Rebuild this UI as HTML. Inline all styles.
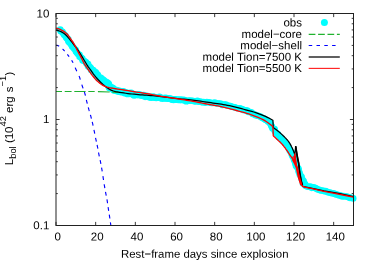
<!DOCTYPE html>
<html><head><meta charset="utf-8"><title>Lbol</title>
<style>html,body{margin:0;padding:0;background:#fff;}svg{display:block;will-change:transform;}</style>
</head><body>
<svg width="374" height="262" viewBox="0 0 374 262">
<rect width="374" height="262" fill="#fff"/>
<defs><clipPath id="c"><rect x="56.00" y="13.50" width="303.50" height="212.00"/></clipPath></defs>
<g fill="#00ffff">
<circle cx="60.20" cy="29.60" r="3.30"/>
<circle cx="60.74" cy="31.22" r="3.30"/>
<circle cx="62.38" cy="31.92" r="3.30"/>
<circle cx="63.22" cy="33.29" r="3.30"/>
<circle cx="64.06" cy="34.64" r="3.30"/>
<circle cx="65.35" cy="35.67" r="3.30"/>
<circle cx="66.01" cy="37.15" r="3.30"/>
<circle cx="66.90" cy="38.46" r="3.30"/>
<circle cx="68.33" cy="39.42" r="3.30"/>
<circle cx="68.35" cy="41.32" r="3.30"/>
<circle cx="69.38" cy="42.54" r="3.30"/>
<circle cx="70.68" cy="43.57" r="3.30"/>
<circle cx="71.46" cy="44.97" r="3.30"/>
<circle cx="72.17" cy="46.41" r="3.30"/>
<circle cx="73.34" cy="47.53" r="3.30"/>
<circle cx="74.27" cy="48.81" r="3.30"/>
<circle cx="75.58" cy="49.82" r="3.30"/>
<circle cx="75.92" cy="51.55" r="3.30"/>
<circle cx="77.02" cy="52.71" r="3.30"/>
<circle cx="77.96" cy="53.99" r="3.30"/>
<circle cx="79.50" cy="54.78" r="3.30"/>
<circle cx="79.60" cy="56.77" r="3.30"/>
<circle cx="81.08" cy="57.60" r="3.30"/>
<circle cx="82.28" cy="58.65" r="3.30"/>
<circle cx="82.65" cy="60.45" r="3.30"/>
<circle cx="84.30" cy="61.12" r="3.30"/>
<circle cx="85.75" cy="61.96" r="3.30"/>
<circle cx="86.48" cy="63.43" r="3.32"/>
<circle cx="88.06" cy="64.17" r="3.35"/>
<circle cx="88.13" cy="66.21" r="3.39"/>
<circle cx="89.59" cy="67.04" r="3.43"/>
<circle cx="90.73" cy="68.15" r="3.47"/>
<circle cx="91.29" cy="69.78" r="3.51"/>
<circle cx="93.13" cy="70.24" r="3.55"/>
<circle cx="93.62" cy="71.97" r="3.59"/>
<circle cx="95.43" cy="72.43" r="3.64"/>
<circle cx="96.16" cy="73.93" r="3.69"/>
<circle cx="97.43" cy="74.90" r="3.73"/>
<circle cx="97.88" cy="76.73" r="3.77"/>
<circle cx="98.98" cy="77.90" r="3.81"/>
<circle cx="100.70" cy="78.34" r="3.84"/>
<circle cx="101.65" cy="79.69" r="3.86"/>
<circle cx="103.13" cy="80.39" r="3.89"/>
<circle cx="104.17" cy="81.63" r="3.90"/>
<circle cx="105.69" cy="82.31" r="3.90"/>
<circle cx="107.10" cy="83.14" r="3.90"/>
<circle cx="108.28" cy="84.19" r="3.90"/>
<circle cx="108.90" cy="85.86" r="3.90"/>
<circle cx="109.64" cy="87.47" r="3.86"/>
<circle cx="111.37" cy="87.90" r="3.82"/>
<circle cx="112.86" cy="88.49" r="3.78"/>
<circle cx="113.85" cy="90.06" r="3.73"/>
<circle cx="115.59" cy="90.14" r="3.70"/>
<circle cx="117.10" cy="90.63" r="3.70"/>
<circle cx="118.60" cy="91.16" r="3.70"/>
<circle cx="120.18" cy="91.44" r="3.70"/>
<circle cx="121.74" cy="91.76" r="3.70"/>
<circle cx="123.37" cy="91.71" r="3.70"/>
<circle cx="124.76" cy="92.77" r="3.69"/>
<circle cx="126.37" cy="92.87" r="3.68"/>
<circle cx="127.83" cy="93.66" r="3.68"/>
<circle cx="129.51" cy="93.37" r="3.67"/>
<circle cx="131.18" cy="93.09" r="3.66"/>
<circle cx="132.61" cy="94.06" r="3.65"/>
<circle cx="134.05" cy="95.02" r="3.64"/>
<circle cx="135.76" cy="94.52" r="3.63"/>
<circle cx="137.35" cy="94.59" r="3.62"/>
<circle cx="138.94" cy="94.73" r="3.61"/>
<circle cx="140.50" cy="95.02" r="3.60"/>
<circle cx="142.03" cy="95.52" r="3.59"/>
<circle cx="143.64" cy="95.41" r="3.59"/>
<circle cx="145.08" cy="96.62" r="3.58"/>
<circle cx="146.75" cy="96.15" r="3.58"/>
<circle cx="148.31" cy="96.50" r="3.58"/>
<circle cx="149.82" cy="97.19" r="3.57"/>
<circle cx="151.40" cy="97.40" r="3.57"/>
<circle cx="153.05" cy="96.93" r="3.56"/>
<circle cx="154.61" cy="97.32" r="3.56"/>
<circle cx="156.17" cy="97.65" r="3.55"/>
<circle cx="157.79" cy="97.47" r="3.55"/>
<circle cx="159.43" cy="97.04" r="3.54"/>
<circle cx="160.92" cy="98.12" r="3.53"/>
<circle cx="162.49" cy="98.37" r="3.53"/>
<circle cx="164.09" cy="98.35" r="3.52"/>
<circle cx="165.72" cy="98.00" r="3.51"/>
<circle cx="167.27" cy="98.42" r="3.50"/>
<circle cx="168.87" cy="98.42" r="3.49"/>
<circle cx="170.44" cy="98.69" r="3.47"/>
<circle cx="171.96" cy="99.44" r="3.46"/>
<circle cx="173.53" cy="99.69" r="3.45"/>
<circle cx="175.14" cy="99.52" r="3.44"/>
<circle cx="176.73" cy="99.64" r="3.43"/>
<circle cx="178.30" cy="99.85" r="3.41"/>
<circle cx="179.91" cy="99.75" r="3.40"/>
<circle cx="181.49" cy="99.89" r="3.38"/>
<circle cx="183.10" cy="99.83" r="3.36"/>
<circle cx="184.65" cy="100.22" r="3.35"/>
<circle cx="186.14" cy="101.26" r="3.34"/>
<circle cx="187.78" cy="100.89" r="3.32"/>
<circle cx="189.41" cy="100.59" r="3.31"/>
<circle cx="190.99" cy="100.69" r="3.30"/>
<circle cx="192.59" cy="100.69" r="3.30"/>
<circle cx="194.12" cy="101.31" r="3.30"/>
<circle cx="195.71" cy="101.45" r="3.30"/>
<circle cx="197.35" cy="100.88" r="3.30"/>
<circle cx="198.87" cy="101.74" r="3.30"/>
<circle cx="200.49" cy="101.46" r="3.30"/>
<circle cx="202.01" cy="102.34" r="3.30"/>
<circle cx="203.64" cy="101.98" r="3.30"/>
<circle cx="205.17" cy="102.70" r="3.30"/>
<circle cx="206.82" cy="102.02" r="3.30"/>
<circle cx="208.40" cy="102.23" r="3.30"/>
<circle cx="209.95" cy="102.61" r="3.30"/>
<circle cx="211.50" cy="103.07" r="3.30"/>
<circle cx="213.10" cy="103.07" r="3.30"/>
<circle cx="214.76" cy="102.60" r="3.30"/>
<circle cx="216.26" cy="103.35" r="3.30"/>
<circle cx="217.84" cy="103.52" r="3.30"/>
<circle cx="219.44" cy="103.60" r="3.30"/>
<circle cx="221.02" cy="103.79" r="3.30"/>
<circle cx="222.41" cy="104.98" r="3.30"/>
<circle cx="224.13" cy="104.49" r="3.30"/>
<circle cx="225.72" cy="104.65" r="3.30"/>
<circle cx="227.16" cy="105.54" r="3.30"/>
<circle cx="228.75" cy="105.70" r="3.30"/>
<circle cx="230.31" cy="105.98" r="3.30"/>
<circle cx="231.77" cy="106.68" r="3.30"/>
<circle cx="233.34" cy="106.97" r="3.30"/>
<circle cx="234.88" cy="107.34" r="3.30"/>
<circle cx="236.35" cy="107.99" r="3.30"/>
<circle cx="237.94" cy="108.19" r="3.30"/>
<circle cx="239.56" cy="108.33" r="3.30"/>
<circle cx="241.04" cy="108.91" r="3.30"/>
<circle cx="242.57" cy="109.38" r="3.30"/>
<circle cx="243.96" cy="110.19" r="3.30"/>
<circle cx="245.62" cy="110.31" r="3.30"/>
<circle cx="247.21" cy="110.64" r="3.30"/>
<circle cx="248.40" cy="111.92" r="3.30"/>
<circle cx="250.07" cy="112.06" r="3.30"/>
<circle cx="251.63" cy="112.49" r="3.30"/>
<circle cx="252.71" cy="113.95" r="3.30"/>
<circle cx="254.33" cy="114.23" r="3.30"/>
<circle cx="255.59" cy="115.31" r="3.30"/>
<circle cx="257.22" cy="115.59" r="3.30"/>
<circle cx="258.78" cy="116.02" r="3.30"/>
<circle cx="260.27" cy="116.62" r="3.30"/>
<circle cx="261.61" cy="117.54" r="3.30"/>
<circle cx="263.00" cy="118.32" r="3.30"/>
<circle cx="264.49" cy="118.89" r="3.30"/>
<circle cx="265.73" cy="119.88" r="3.30"/>
<circle cx="267.33" cy="120.40" r="3.30"/>
<circle cx="268.26" cy="121.87" r="3.30"/>
<circle cx="269.92" cy="122.45" r="3.30"/>
<circle cx="270.55" cy="124.02" r="3.30"/>
<circle cx="271.21" cy="125.49" r="3.30"/>
<circle cx="271.94" cy="126.91" r="3.30"/>
<circle cx="272.61" cy="128.41" r="3.30"/>
<circle cx="274.54" cy="129.02" r="3.30"/>
<circle cx="274.75" cy="130.82" r="3.30"/>
<circle cx="275.55" cy="132.21" r="3.30"/>
<circle cx="276.56" cy="133.45" r="3.30"/>
<circle cx="278.09" cy="134.29" r="3.30"/>
<circle cx="278.66" cy="135.85" r="3.30"/>
<circle cx="279.22" cy="137.45" r="3.30"/>
<circle cx="281.21" cy="137.84" r="3.30"/>
<circle cx="281.73" cy="139.51" r="3.30"/>
<circle cx="282.66" cy="140.82" r="3.30"/>
<circle cx="284.24" cy="141.53" r="3.30"/>
<circle cx="284.86" cy="143.07" r="3.30"/>
<circle cx="286.34" cy="143.95" r="3.30"/>
<circle cx="287.21" cy="145.30" r="3.30"/>
<circle cx="288.11" cy="146.62" r="3.30"/>
<circle cx="288.64" cy="148.16" r="3.30"/>
<circle cx="289.52" cy="149.48" r="3.30"/>
<circle cx="289.93" cy="151.07" r="3.30"/>
<circle cx="291.29" cy="152.16" r="3.30"/>
<circle cx="291.72" cy="153.72" r="3.30"/>
<circle cx="292.02" cy="155.33" r="3.30"/>
<circle cx="292.81" cy="156.72" r="3.30"/>
<circle cx="294.10" cy="157.90" r="3.30"/>
<circle cx="293.98" cy="159.65" r="3.30"/>
<circle cx="294.93" cy="161.00" r="3.30"/>
<circle cx="295.13" cy="162.61" r="3.30"/>
<circle cx="295.69" cy="164.10" r="3.30"/>
<circle cx="295.94" cy="165.71" r="3.30"/>
<circle cx="296.93" cy="167.03" r="3.30"/>
<circle cx="298.23" cy="168.20" r="3.30"/>
<circle cx="298.69" cy="169.73" r="3.30"/>
<circle cx="298.59" cy="171.51" r="3.30"/>
<circle cx="299.56" cy="172.82" r="3.30"/>
<circle cx="299.72" cy="174.48" r="3.30"/>
<circle cx="300.67" cy="175.80" r="3.30"/>
<circle cx="301.64" cy="177.12" r="3.30"/>
<circle cx="301.52" cy="178.86" r="3.30"/>
<circle cx="302.71" cy="180.13" r="3.30"/>
<circle cx="303.72" cy="181.40" r="3.30"/>
<circle cx="302.99" cy="183.58" r="3.30"/>
<circle cx="305.05" cy="184.11" r="3.30"/>
<circle cx="305.51" cy="185.70" r="3.30"/>
<circle cx="307.01" cy="186.52" r="3.30"/>
<circle cx="308.64" cy="186.77" r="3.30"/>
<circle cx="310.34" cy="186.51" r="3.30"/>
<circle cx="311.65" cy="187.86" r="3.30"/>
<circle cx="313.43" cy="187.34" r="3.30"/>
<circle cx="314.96" cy="187.82" r="3.30"/>
<circle cx="316.37" cy="188.65" r="3.30"/>
<circle cx="317.76" cy="189.55" r="3.30"/>
<circle cx="319.32" cy="189.86" r="3.30"/>
<circle cx="320.78" cy="190.53" r="3.30"/>
<circle cx="322.44" cy="190.54" r="3.30"/>
<circle cx="323.93" cy="191.09" r="3.30"/>
<circle cx="325.56" cy="191.14" r="3.30"/>
<circle cx="327.02" cy="191.82" r="3.30"/>
<circle cx="328.49" cy="192.52" r="3.30"/>
<circle cx="330.11" cy="192.57" r="3.30"/>
<circle cx="331.57" cy="193.26" r="3.30"/>
<circle cx="333.20" cy="193.37" r="3.30"/>
<circle cx="334.70" cy="193.87" r="3.30"/>
<circle cx="336.16" cy="194.50" r="3.30"/>
<circle cx="337.73" cy="194.78" r="3.30"/>
<circle cx="339.21" cy="195.41" r="3.30"/>
<circle cx="340.80" cy="195.58" r="3.30"/>
<circle cx="342.24" cy="196.49" r="3.30"/>
<circle cx="343.95" cy="196.09" r="3.30"/>
<circle cx="345.50" cy="196.44" r="3.30"/>
<circle cx="347.12" cy="196.50" r="3.30"/>
<circle cx="348.57" cy="197.26" r="3.30"/>
<circle cx="350.05" cy="197.88" r="3.30"/>
<circle cx="351.73" cy="197.74" r="3.30"/>
<circle cx="353.20" cy="198.40" r="3.30"/>
</g>
<path d="M56.00,91.50 L62.00,91.50 M64.70,91.50 L71.60,91.50 M74.30,91.50 L85.60,91.50 M88.30,91.50 L94.70,91.50 M97.90,91.60 L109.70,92.01 M112.30,92.10 L118.60,92.32" fill="none" stroke="#20b22e" stroke-width="1.2"/>
<path d="M56.00,45.30 L56.50,45.32 L56.98,45.39 L57.44,45.47 L57.89,45.58 L58.32,45.75 L58.74,45.99 L59.15,46.26 M62.58,49.01 L62.93,49.34 L63.28,49.68 L63.62,50.02 L63.95,50.36 L64.28,50.71 L64.61,51.06 M67.39,54.41 L67.68,54.79 L67.97,55.17 L68.27,55.56 L68.56,55.94 L68.85,56.32 L69.14,56.71 M71.65,60.27 L71.90,60.68 L72.15,61.09 L72.39,61.50 L72.62,61.92 L72.84,62.34 L73.06,62.77 M75.18,67.64 L75.37,68.08 L75.56,68.53 L75.75,68.97 L75.95,69.41 L76.15,69.85 L76.36,70.29 L76.56,70.72 L76.77,71.16 M79.04,75.97 L79.22,76.41 L79.39,76.86 L79.56,77.31 L79.72,77.76 L79.87,78.21 L80.00,78.68 L80.13,79.14 L80.26,79.61 M81.83,84.67 L81.98,85.13 L82.13,85.59 L82.28,86.05 L82.44,86.51 L82.59,86.96 L82.75,87.42 L82.91,87.87 L83.07,88.33 M84.37,91.96 L84.52,92.42 L84.67,92.88 L84.81,93.34 L84.94,93.80 L85.07,94.26 L85.20,94.73 L85.31,95.19 L85.43,95.66 M86.38,99.90 L86.48,100.37 L86.59,100.84 L86.70,101.31 L86.82,101.78 L86.94,102.25 L87.05,102.71 L87.17,103.18 L87.29,103.65 M88.28,107.38 L88.40,107.84 L88.53,108.31 L88.66,108.77 L88.78,109.24 L88.91,109.70 L89.04,110.17 L89.18,110.63 L89.31,111.09 M90.40,114.79 L90.53,115.26 L90.66,115.72 L90.79,116.19 L90.91,116.65 L91.04,117.12 L91.16,117.58 L91.28,118.05 L91.40,118.52 M92.21,121.79 L92.32,122.26 L92.43,122.73 L92.54,123.20 L92.65,123.67 L92.75,124.14 L92.86,124.61 L92.96,125.08 L93.07,125.55 M93.95,129.80 L94.05,130.27 L94.15,130.75 L94.24,131.22 L94.34,131.69 L94.44,132.16 L94.53,132.64 L94.62,133.11 L94.72,133.58 M95.56,137.84 L95.65,138.31 L95.75,138.78 L95.85,139.26 L95.95,139.73 L96.05,140.20 L96.15,140.67 L96.26,141.14 L96.36,141.61 M97.10,144.90 L97.20,145.38 L97.30,145.85 L97.40,146.32 L97.50,146.79 L97.59,147.26 L97.68,147.74 L97.77,148.21 L97.86,148.68 M98.54,152.48 L98.62,152.96 L98.71,153.43 L98.80,153.90 L98.90,154.38 L98.99,154.85 L99.09,155.32 L99.19,155.79 L99.29,156.26 M100.11,160.03 L100.21,160.50 L100.31,160.98 L100.41,161.45 L100.50,161.92 L100.60,162.39 L100.69,162.87 L100.78,163.34 L100.87,163.81 M101.57,167.61 L101.66,168.08 L101.74,168.56 L101.82,169.03 L101.90,169.51 L101.98,169.98 L102.06,170.46 L102.14,170.93 L102.21,171.41 M102.94,176.18 L103.01,176.65 L103.08,177.13 L103.15,177.61 L103.23,178.08 L103.30,178.56 L103.38,179.04 L103.45,179.51 L103.52,179.99 M104.19,184.28 L104.26,184.75 L104.34,185.23 L104.42,185.70 L104.50,186.18 L104.58,186.65 L104.66,187.13 L104.74,187.60 L104.83,188.08 M105.52,191.87 L105.61,192.35 L105.70,192.82 L105.79,193.29 L105.88,193.77 L105.96,194.24 L106.05,194.72 L106.14,195.19 L106.23,195.66 M106.95,199.45 L107.03,199.93 L107.12,200.40 L107.20,200.88 L107.28,201.35 L107.35,201.83 L107.43,202.31 L107.50,202.78 L107.57,203.26 M108.11,207.08 L108.18,207.56 L108.24,208.03 L108.31,208.51 L108.38,208.99 L108.46,209.46 L108.53,209.94 L108.60,210.42 L108.68,210.89 M109.28,214.70 L109.35,215.18 L109.43,215.66 L109.50,216.13 L109.57,216.61 L109.64,217.09 L109.71,217.56 L109.78,218.04 L109.85,218.52 M110.40,222.33 L110.47,222.81 L110.54,223.29 L110.60,223.77 L110.67,224.24 L110.73,224.72 L110.80,225.20" fill="none" stroke="#0000ff" stroke-width="1.15" clip-path="url(#c)"/>
<path d="M56.00,30.20 L58.06,30.63 L60.04,31.26 L61.94,32.15 L63.71,33.23 L65.36,34.54 L66.87,35.97 L68.23,37.55 L69.54,39.19 L70.84,40.83 L72.11,42.49 L73.38,44.15 L74.68,45.79 L76.00,47.42 L77.27,49.07 L78.46,50.78 L79.58,52.53 L80.66,54.33 L81.71,56.13 L82.78,57.94 L83.86,59.72 L84.95,61.51 L86.04,63.29 L87.15,65.06 L88.31,66.80 L89.53,68.50 L90.74,70.20 L91.94,71.91 L93.16,73.61 L94.42,75.27 L95.73,76.89 L97.09,78.48 L98.50,80.03 L99.94,81.54 L101.42,83.01 L102.96,84.44 L104.54,85.80 L106.17,87.12 L107.87,88.34 L109.66,89.40 L111.55,90.34 L113.50,91.01 L115.51,91.52 L117.57,91.94 L119.64,92.31 L121.71,92.65 L123.77,92.96 L125.84,93.25 L127.92,93.51 L129.99,93.76 L132.07,94.00 L134.14,94.23 L136.22,94.46 L138.30,94.66 L140.38,94.83 L142.47,94.96 L144.55,95.07 L146.64,95.20 L148.72,95.35 L150.80,95.51 L152.89,95.68 L154.97,95.87 L157.05,96.07 L159.13,96.28 L161.20,96.52 L163.27,96.77 L165.34,97.06 L167.41,97.36 L169.48,97.67 L171.55,97.95 L173.62,98.18 L175.70,98.40 L177.78,98.61 L179.86,98.81 L181.94,99.02 L184.02,99.24 L186.09,99.47 L188.17,99.70 L190.24,99.93 L192.32,100.17 L194.39,100.42 L196.47,100.68 L198.54,100.94 L200.61,101.22 L202.68,101.50 L204.75,101.79 L206.81,102.11 L208.88,102.43 L210.94,102.73 L213.01,103.01 L215.09,103.29 L217.16,103.57 L219.22,103.88 L221.28,104.21 L223.35,104.56 L225.40,104.93 L227.46,105.31 L229.50,105.72 L231.54,106.16 L233.58,106.64 L235.61,107.14 L237.63,107.66 L239.65,108.18 L241.67,108.71 L243.69,109.26 L245.70,109.82 L247.72,110.36 L249.75,110.89 L251.77,111.43 L253.77,112.01 L255.76,112.64 L257.73,113.33 L259.69,114.05 L261.64,114.82 L263.57,115.62 L265.49,116.44 L267.38,117.33 L269.25,118.27 L271.09,119.26 L272.90,120.30 L273.30,127.60 L273.55,127.77 L273.79,127.94 L274.04,128.11 L274.28,128.28 L274.52,128.45 L274.76,128.62 L275.01,128.79 L275.25,128.97 L275.49,129.14 L275.73,129.32 L275.96,129.50 L276.20,129.68 L276.44,129.85 L276.67,130.04 L276.91,130.22 L277.14,130.40 L277.38,130.58 L277.61,130.77 L277.84,130.95 L278.07,131.14 L278.30,131.32 L278.53,131.51 L278.76,131.70 L278.99,131.89 L279.21,132.08 L279.44,132.28 L279.67,132.47 L279.89,132.66 L280.12,132.86 L280.34,133.05 L280.56,133.25 L280.79,133.45 L281.01,133.65 L281.23,133.84 L281.45,134.05 L281.67,134.25 L281.89,134.45 L282.10,134.65 L282.32,134.85 L282.54,135.06 L282.75,135.26 L282.96,135.47 L283.17,135.68 L283.39,135.89 L283.60,136.09 L283.81,136.30 L284.02,136.51 L284.23,136.72 L284.44,136.93 L284.65,137.14 L284.86,137.36 L285.07,137.57 L285.29,137.78 L285.49,138.00 L285.70,138.21 L285.91,138.43 L286.12,138.65 L286.32,138.86 L286.53,139.08 L286.73,139.30 L286.93,139.53 L287.12,139.75 L287.32,139.97 L287.51,140.20 L287.70,140.43 L287.89,140.66 L288.07,140.89 L288.26,141.12 L288.43,141.35 L288.61,141.59 L288.78,141.83 L288.94,142.06 L289.11,142.31 L289.27,142.55 L289.43,142.80 L289.59,143.05 L289.74,143.30 L289.89,143.56 L290.04,143.81 L290.19,144.07 L290.34,144.33 L290.48,144.59 L290.62,144.86 L290.76,145.12 L290.90,145.39 L291.04,145.65 L291.18,145.92 L291.31,146.19 L291.44,146.45 L291.57,146.72 L291.71,146.99 L291.84,147.26 L291.96,147.52 L292.09,147.79 L292.22,148.06 L292.34,148.33 L292.46,148.60 L292.58,148.87 L292.70,149.14 L292.82,149.42 L292.93,149.69 L293.05,149.97 L293.16,150.24 L293.27,150.52 L293.38,150.79 L293.49,151.07 L293.60,151.34 L293.71,151.62 L293.81,151.90 L293.92,152.18 L294.02,152.45 L294.12,152.73 L294.22,153.01 L294.32,153.29 L294.42,153.57 L294.52,153.85 L294.61,154.14 L294.71,154.42 L294.80,154.70 L294.80,154.70 L295.70,146.00 L296.80,153.60 L297.80,159.10 L297.80,159.10 L298.70,163.30 L299.20,166.70 L299.60,172.00 L300.60,177.40 L301.10,180.60 L302.70,186.40 L302.70,186.40 L313.40,188.70 L324.00,190.90 L340.00,193.70 L353.40,196.60" fill="none" stroke="#000" stroke-width="1.25" stroke-linejoin="miter"/>
<path d="M295.70,146.30 L296.80,153.60 L297.80,159.10 L298.70,163.30 L299.60,172.00 L301.10,180.60 L302.40,185.30" fill="none" stroke="#000" stroke-width="1.7" stroke-linejoin="round"/>
<path d="M56.00,28.20 L58.08,28.70 L60.08,29.39 L61.99,30.28 L63.80,31.40 L65.50,32.66 L67.07,34.09 L68.46,35.68 L69.69,37.41 L70.86,39.19 L72.06,40.93 L73.26,42.69 L74.38,44.48 L75.36,46.35 L76.26,48.28 L77.20,50.18 L78.17,52.06 L79.17,53.93 L80.17,55.80 L81.16,57.68 L82.13,59.56 L83.09,61.45 L84.09,63.32 L85.15,65.16 L86.30,66.94 L87.54,68.65 L88.75,70.40 L89.96,72.15 L91.18,73.88 L92.45,75.57 L93.79,77.21 L95.17,78.84 L96.62,80.41 L98.14,81.85 L99.77,83.21 L101.50,84.50 L103.31,85.63 L105.20,86.48 L107.23,87.13 L109.30,87.63 L111.37,88.04 L113.47,88.40 L115.56,88.73 L117.66,89.06 L119.75,89.37 L121.85,89.68 L123.95,89.98 L126.05,90.30 L128.14,90.64 L130.22,91.00 L132.31,91.37 L134.40,91.73 L136.49,92.08 L138.59,92.39 L140.69,92.70 L142.78,93.00 L144.88,93.31 L146.97,93.65 L149.06,94.02 L151.14,94.41 L153.22,94.81 L155.30,95.21 L157.39,95.60 L159.48,95.96 L161.56,96.32 L163.65,96.68 L165.75,97.02 L167.84,97.36 L169.93,97.69 L172.03,98.00 L174.12,98.32 L176.22,98.63 L178.32,98.94 L180.41,99.25 L182.51,99.57 L184.60,99.90 L186.69,100.24 L188.78,100.59 L190.87,100.95 L192.96,101.32 L195.04,101.71 L197.12,102.11 L199.20,102.53 L201.28,102.95 L203.36,103.36 L205.44,103.76 L207.53,104.15 L209.61,104.53 L211.70,104.89 L213.79,105.24 L215.88,105.59 L217.97,105.96 L220.04,106.37 L222.11,106.83 L224.18,107.31 L226.24,107.81 L228.30,108.32 L230.35,108.84 L232.40,109.38 L234.45,109.94 L236.49,110.50 L238.53,111.07 L240.58,111.63 L242.63,112.17 L244.67,112.72 L246.71,113.31 L248.74,113.93 L250.76,114.59 L252.76,115.28 L254.74,116.02 L256.71,116.80 L258.67,117.63 L260.61,118.51 L262.52,119.44 L264.39,120.43 L266.21,121.49 L267.96,122.70 L269.65,123.97 L271.30,125.30 L272.90,126.70 L273.30,135.80 L273.51,136.00 L273.72,136.19 L273.93,136.39 L274.14,136.58 L274.35,136.78 L274.56,136.97 L274.77,137.17 L274.98,137.37 L275.19,137.56 L275.40,137.76 L275.61,137.96 L275.82,138.15 L276.03,138.35 L276.24,138.54 L276.45,138.74 L276.66,138.94 L276.87,139.13 L277.08,139.33 L277.29,139.53 L277.50,139.72 L277.71,139.92 L277.92,140.12 L278.13,140.31 L278.34,140.51 L278.55,140.70 L278.77,140.89 L278.98,141.09 L279.19,141.28 L279.41,141.47 L279.62,141.67 L279.83,141.86 L280.05,142.06 L280.26,142.25 L280.46,142.45 L280.67,142.65 L280.87,142.85 L281.07,143.06 L281.27,143.26 L281.47,143.47 L281.66,143.68 L281.85,143.89 L282.04,144.11 L282.22,144.33 L282.41,144.54 L282.60,144.76 L282.78,144.98 L282.96,145.20 L283.14,145.43 L283.32,145.65 L283.50,145.88 L283.68,146.10 L283.86,146.33 L284.03,146.56 L284.21,146.79 L284.38,147.02 L284.56,147.25 L284.73,147.48 L284.90,147.71 L285.07,147.94 L285.24,148.17 L285.42,148.41 L285.59,148.64 L285.75,148.87 L285.92,149.10 L286.09,149.34 L286.26,149.57 L286.43,149.80 L286.60,150.04 L286.76,150.27 L286.93,150.50 L287.09,150.74 L287.26,150.97 L287.42,151.21 L287.58,151.45 L287.74,151.69 L287.90,151.93 L288.06,152.17 L288.22,152.40 L288.38,152.64 L288.54,152.88 L288.69,153.13 L288.85,153.37 L289.01,153.61 L289.17,153.85 L289.32,154.09 L289.48,154.33 L289.64,154.57 L289.80,154.81 L289.96,155.04 L290.12,155.28 L290.28,155.52 L290.44,155.76 L290.61,155.99 L290.77,156.23 L290.94,156.47 L291.10,156.70 L291.27,156.94 L291.44,157.17 L291.60,157.41 L291.77,157.64 L291.93,157.88 L292.10,158.11 L292.26,158.35 L292.42,158.59 L292.58,158.83 L292.74,159.07 L292.89,159.31 L293.05,159.55 L293.20,159.79 L293.34,160.04 L293.49,160.29 L293.64,160.53 L293.78,160.78 L293.92,161.03 L294.06,161.28 L294.20,161.54 L294.33,161.79 L294.47,162.05 L294.60,162.30 L294.60,162.30 L294.90,153.50 L296.60,166.50 L296.60,166.50 L297.30,169.00 L298.80,176.80 L301.20,184.60 L302.80,186.30 L302.80,186.30 L305.90,187.40 L313.40,188.90 L324.10,191.30 L332.00,192.90 L345.40,195.50 L353.40,197.10" fill="none" stroke="#ff0000" stroke-width="1.35" stroke-linejoin="miter"/>
<path d="M293.40,160.20 L295.60,164.60 L297.00,168.20 L298.80,176.80 L301.00,184.00" fill="none" stroke="#ff0000" stroke-width="2.3" stroke-linejoin="round" stroke-linecap="round"/>
<path d="M291.6,157.4 L294.9,154.6 L296.6,166.5 L294.6,162.3 Z" fill="#ff0000" fill-opacity="0.75"/>
<rect x="56.0" y="13.5" width="297.5" height="212.0" fill="none" stroke="#222" stroke-width="1"/>
<path d="M56.00,225.5 v-3.6 M56.00,13.5 v3.6 M95.67,225.5 v-3.6 M95.67,13.5 v3.6 M135.33,225.5 v-3.6 M135.33,13.5 v3.6 M175.00,225.5 v-3.6 M175.00,13.5 v3.6 M214.67,225.5 v-3.6 M214.67,13.5 v3.6 M254.33,225.5 v-3.6 M254.33,13.5 v3.6 M294.00,225.5 v-3.6 M294.00,13.5 v3.6 M333.67,225.5 v-3.6 M333.67,13.5 v3.6 M56.0,225.50 h3.6 M353.5,225.50 h-3.6 M56.0,119.50 h3.6 M353.5,119.50 h-3.6 M56.0,13.50 h3.6 M353.5,13.50 h-3.6 M56.0,193.59 h1.8 M353.5,193.59 h-1.8 M56.0,174.93 h1.8 M353.5,174.93 h-1.8 M56.0,161.68 h1.8 M353.5,161.68 h-1.8 M56.0,151.41 h1.8 M353.5,151.41 h-1.8 M56.0,143.02 h1.8 M353.5,143.02 h-1.8 M56.0,135.92 h1.8 M353.5,135.92 h-1.8 M56.0,129.77 h1.8 M353.5,129.77 h-1.8 M56.0,124.35 h1.8 M353.5,124.35 h-1.8 M56.0,87.59 h1.8 M353.5,87.59 h-1.8 M56.0,68.93 h1.8 M353.5,68.93 h-1.8 M56.0,55.68 h1.8 M353.5,55.68 h-1.8 M56.0,45.41 h1.8 M353.5,45.41 h-1.8 M56.0,37.02 h1.8 M353.5,37.02 h-1.8 M56.0,29.92 h1.8 M353.5,29.92 h-1.8 M56.0,23.77 h1.8 M353.5,23.77 h-1.8 M56.0,18.35 h1.8 M353.5,18.35 h-1.8" fill="none" stroke="#222" stroke-width="0.9"/>
<g font-family="'Liberation Sans', sans-serif" font-size="11.5" fill="#000">
<text x="57.60" y="240.50" text-anchor="middle" transform="rotate(0.05 57.60 240.50)">0</text>
<text x="97.27" y="240.50" text-anchor="middle" transform="rotate(0.05 97.27 240.50)">20</text>
<text x="136.93" y="240.50" text-anchor="middle" transform="rotate(0.05 136.93 240.50)">40</text>
<text x="176.60" y="240.50" text-anchor="middle" transform="rotate(0.05 176.60 240.50)">60</text>
<text x="216.27" y="240.50" text-anchor="middle" transform="rotate(0.05 216.27 240.50)">80</text>
<text x="255.93" y="240.50" text-anchor="middle" transform="rotate(0.05 255.93 240.50)">100</text>
<text x="295.60" y="240.50" text-anchor="middle" transform="rotate(0.05 295.60 240.50)">120</text>
<text x="335.27" y="240.50" text-anchor="middle" transform="rotate(0.05 335.27 240.50)">140</text>
<text x="49.30" y="229.35" text-anchor="end" transform="rotate(0.05 49.30 229.35)">0.1</text>
<text x="49.30" y="122.90" text-anchor="end" transform="rotate(0.05 49.30 122.90)">1</text>
<text x="49.30" y="17.45" text-anchor="end" transform="rotate(0.05 49.30 17.45)">10</text>
<text x="204.80" y="257.80" text-anchor="middle" transform="rotate(0.05 204.80 257.80)" font-size="11.4">Rest−frame days since explosion</text>
<text x="302.00" y="26.60" text-anchor="end" transform="rotate(0.05 302.00 26.60)">obs</text>
<text x="302.00" y="37.95" text-anchor="end" transform="rotate(0.05 302.00 37.95)">model−core</text>
<text x="302.00" y="49.30" text-anchor="end" transform="rotate(0.05 302.00 49.30)">model−shell</text>
<text x="302.00" y="60.75" text-anchor="end" transform="rotate(0.05 302.00 60.75)">model Tion=7500 K</text>
<text x="302.00" y="72.05" text-anchor="end" transform="rotate(0.05 302.00 72.05)">model Tion=5500 K</text>
<g transform="translate(12.8,165.2) rotate(-90)">
<text x="0" y="0">L<tspan font-size="9.35" dy="3.4">bol</tspan><tspan dy="-3.4"> (10</tspan><tspan font-size="9.35" dy="-6.5">42</tspan><tspan dy="6.5"> erg</tspan><tspan dx="0.8"> s</tspan><tspan font-size="9.35" dy="-6.5">−1</tspan><tspan dy="6.5" dx="0.4">)</tspan></text>
</g>
</g>
<circle cx="324.4" cy="22.5" r="3.5" fill="#00ffff"/>
<path d="M308.7,34.3 H339.8" stroke="#20b22e" stroke-width="1.2" stroke-dasharray="6.7,2.7" fill="none"/>
<path d="M308.7,45.5 H339.8" stroke="#0000ff" stroke-width="1.1" stroke-dasharray="3.5,4.3" fill="none"/>
<path d="M308.7,57.0 H339.8" stroke="#000" stroke-width="1.25" fill="none"/>
<path d="M308.7,68.35 H339.8" stroke="#ff0000" stroke-width="1.0" fill="none"/>
</svg>
</body></html>
